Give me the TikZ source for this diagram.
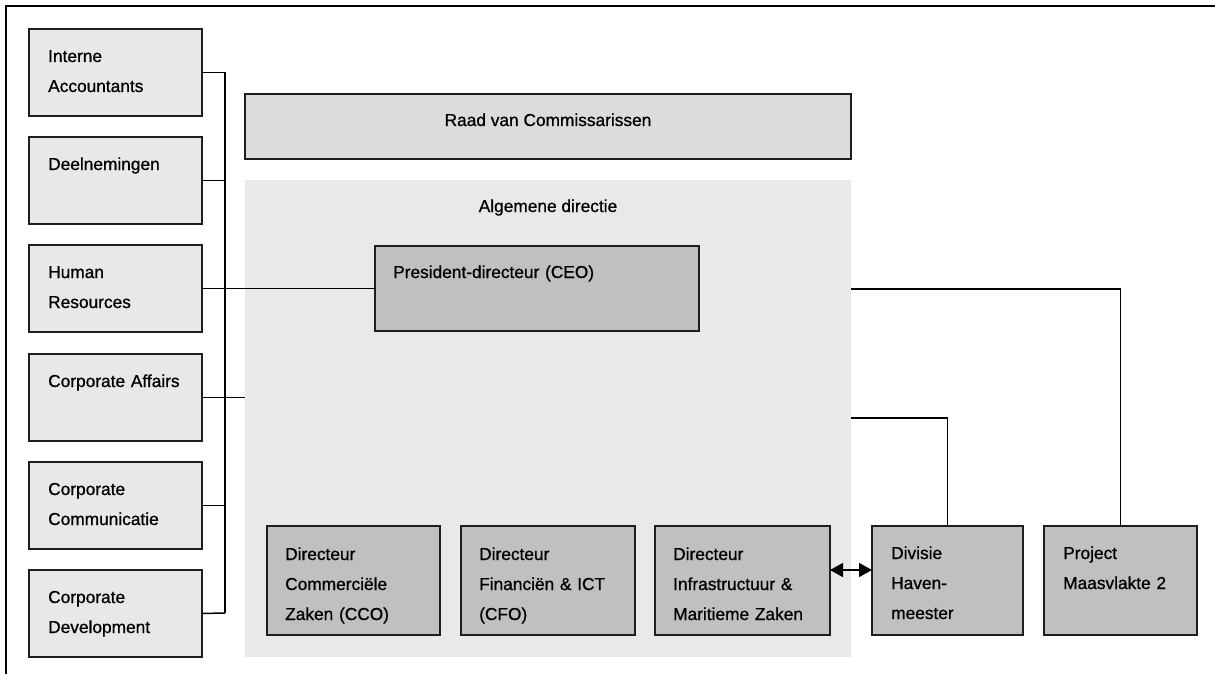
\documentclass[tikz,border=0pt]{standalone}
\usepackage{fontspec}
\setmainfont{Liberation Sans}[FakeBold=0.8]
\usetikzlibrary{arrows.meta,calc}
\definecolor{lboxfill}{HTML}{E8E8E8}
\definecolor{raadfill}{HTML}{DCDCDC}
\definecolor{areafill}{HTML}{E9E9E9}
\definecolor{dirfill}{HTML}{C0C0C0}
\definecolor{edge}{HTML}{1E1E1E}
\tikzset{
  box/.style={draw=edge, line width=1.8pt, anchor=north west, inner sep=0pt, outer sep=0pt},
  sidebox/.style={box, fill=lboxfill, minimum width=173pt, minimum height=87pt},
  dirbox/.style={box, fill=dirfill, minimum height=109pt},
  lbl/.style={anchor=base west, inner sep=0pt, text width=300pt, align=left},
  conn/.style={line width=1.5pt, draw=black},
  basefont/.style={font=\fontsize{17.3}{30}\selectfont}
}
\begin{document}
\begin{tikzpicture}[x=1pt,y=-1pt, every node/.style={basefont}]
\useasboundingbox (0,0) rectangle (1215,674);
% outer frame (top and left edges)
\draw[line width=2pt, black] (6,674) -- (6,6) -- (1215,6);

% general management area
\node[anchor=north west, fill=areafill, inner sep=0pt, outer sep=0pt, minimum width=606pt, minimum height=477pt] (area) at (245,180) {};
\node[anchor=base, inner sep=0pt] (areat) at (548,212) {Algemene directie};

% supervisory board
\node[box, fill=raadfill, minimum width=606pt, minimum height=65pt] (raad) at (245,94) {};
\node[anchor=base, inner sep=0pt] (raadt) at (548,126) {Raad van Commissarissen};

% left staff boxes
\node[sidebox] (b1) at (29,29) {};
\node[sidebox] (b2) at (29,137) {};
\node[sidebox] (b3) at (29,245) {};
\node[sidebox] (b4) at (29,354) {};
\node[sidebox] (b5) at (29,462) {};
\node[sidebox] (b6) at (29,570) {};
\node[lbl] (t1) at ([shift={(19,33)}]b1.north west) {Interne\\Accountants};
\node[lbl] (t2) at ([shift={(19,33)}]b2.north west) {Deelnemingen};
\node[lbl] (t3) at ([shift={(19,33)}]b3.north west) {Human\\Resources};
\node[lbl] (t4) at ([shift={(19,33)}]b4.north west) {Corporate Affairs};
\node[lbl] (t5) at ([shift={(19,33)}]b5.north west) {Corporate\\Communicatie};
\node[lbl] (t6) at ([shift={(19,33)}]b6.north west) {Corporate\\Development};

% CEO
\node[box, fill=dirfill, minimum width=324pt, minimum height=85pt] (ceo) at (375,246) {};
\node[lbl] (ceot) at ([shift={(18,32)}]ceo.north west) {President-directeur (CEO)};

% directors
\node[dirbox, minimum width=173pt] (d1) at (267,526) {};
\node[dirbox, minimum width=174pt] (d2) at (461,526) {};
\node[dirbox, minimum width=175pt] (d3) at (655,526) {};
\node[dirbox, minimum width=151pt] (div) at (872,526) {};
\node[dirbox, minimum width=153pt] (proj) at (1044,526) {};
\node[lbl] (d1t) at ([shift={(18,34)}]d1.north west) {Directeur\\Commerciële\\Zaken (CCO)};
\node[lbl] (d2t) at ([shift={(18,34)}]d2.north west) {Directeur\\Financiën \& ICT\\(CFO)};
\node[lbl] (d3t) at ([shift={(18,34)}]d3.north west) {Directeur\\Infrastructuur \&\\Maritieme Zaken};
\node[lbl] (divt) at ([shift={(19,33)}]div.north west) {Divisie\\Haven-\\meester};
\node[lbl] (projt) at ([shift={(19,33)}]proj.north west) {Project\\Maasvlakte 2};

% staff bus
\coordinate (busbot) at (225,613);
\draw[conn] (b1.east) -| (busbot);
\draw[conn] (b6.east) -- (busbot);
\draw[conn] (b2.east) -- (b2.east -| busbot);
\draw[conn] (b5.east) -- (b5.east -| busbot);
\draw[conn] (b3.east) -- (ceo.west |- b3.east);
\draw[conn] (b4.east) -- (b4.east -| area.west);

% right side connectors
\coordinate (r1) at (851,289);
\coordinate (r2) at (851,418);
\draw[conn] (r1) -| (proj.north);
\draw[conn] (r2) -| (div.north);

% double arrow
\draw[conn, {Triangle[length=13pt,width=14pt]}-{Triangle[length=13pt,width=14pt]}]
  ([yshift=10.5pt]d3.east) -- ([yshift=10.5pt]div.west);
\end{tikzpicture}
\end{document}
